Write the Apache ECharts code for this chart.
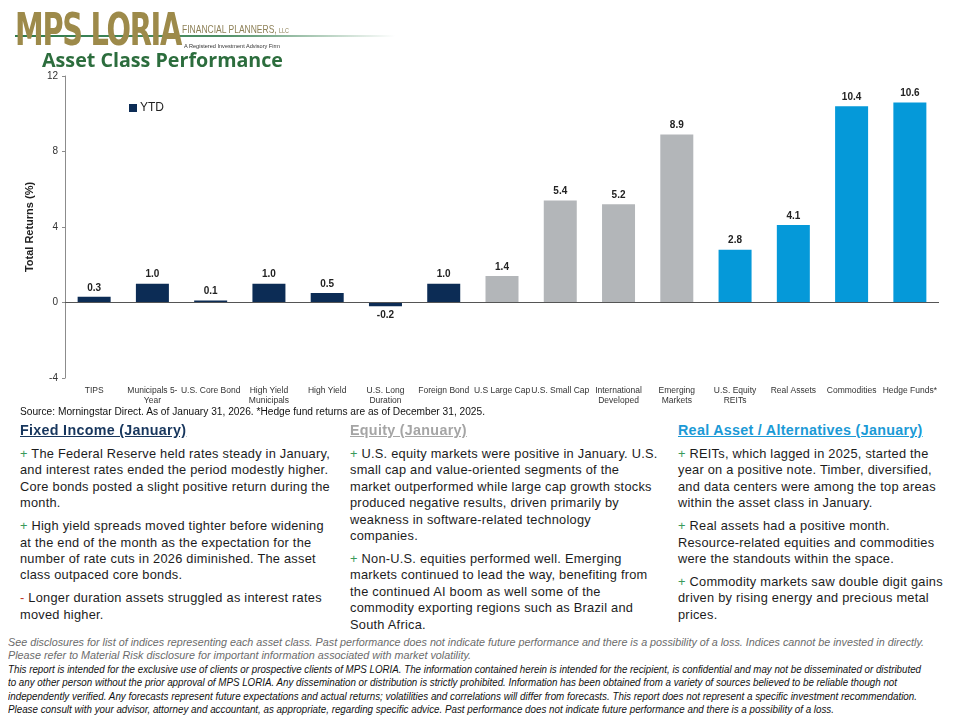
<!DOCTYPE html>
<html>
<head>
<meta charset="utf-8">
<script src="https://cdn.jsdelivr.net/npm/echarts@6/dist/echarts.min.js"></script>
<style>
  html,body{margin:0;padding:0;background:#fff;}
  #page{position:relative;width:960px;height:720px;overflow:hidden;background:#fff;font-family:"Liberation Sans",Arial,sans-serif;}
  #chart{position:absolute;left:0;top:0;width:960px;height:420px;}
  .abs{position:absolute;white-space:nowrap;}
  .fit{display:inline-block;transform-origin:0 50%;white-space:nowrap;}
  .head{font-weight:bold;font-size:14.3px;letter-spacing:0.3px;line-height:18px;text-decoration:underline;}
  .body{font-size:12.8px;letter-spacing:0.25px;line-height:16.4px;color:#1c1c1c;}
  .body p{margin:0 0 6.6px 0;}
  .plus{color:#3a9a5b;}
  .minus{color:#c0392b;}
</style>
</head>
<body>
<div id="page">
  <div id="chart"></div>

  <!-- logo -->
  <div class="abs" style="left:15px;top:35px;width:380px;height:2px;background:linear-gradient(to right,#2e7a4c 0%,#4f8f66 55%,rgba(255,255,255,0) 100%);"></div>
  <div class="abs" style="left:15px;top:10px;height:40px;line-height:40px;"><span class="fit" data-w="166" style="font-family:'DejaVu Sans','Liberation Sans';font-weight:bold;font-size:44px;color:#9d8a4a;letter-spacing:-2px;">MPS LORIA</span></div>
  <div class="abs" style="left:182px;top:21px;height:14px;line-height:14px;"><span class="fit" data-w="107" style="font-size:11px;color:#8e8158;">FINANCIAL PLANNERS, <span style="font-size:7px;">LLC</span></span></div>
  <div class="abs" style="left:184px;top:39px;height:8px;line-height:8px;"><span class="fit" data-w="96" style="font-size:6px;color:#333;">A Registered Investment Advisory Firm</span></div>

  <!-- title -->
  <div class="abs" style="left:42px;top:47px;height:26px;line-height:26px;"><span class="fit" data-w="241" style="font-family:'Open Sans','Liberation Sans';font-weight:bold;font-size:20px;color:#2c6d3d;">Asset Class Performance</span></div>

  <!-- source -->
  <div class="abs" style="left:20px;top:403px;height:13px;line-height:13px;"><span class="fit" data-w="465" style="font-size:10px;color:#111;">Source: Morningstar Direct. As of January 31, 2026. *Hedge fund returns are as of December 31, 2025.</span></div>

  <!-- columns -->
  <div class="abs head" style="left:20px;top:421px;color:#17365d;">Fixed Income (January)</div>
  <div class="abs body" style="left:20px;top:446px;">
    <p><span class="plus">+</span> The Federal Reserve held rates steady in January,<br>and interest rates ended the period modestly higher.<br>Core bonds posted a slight positive return during the<br>month.</p>
    <p><span class="plus">+</span> High yield spreads moved tighter before widening<br>at the end of the month as the expectation for the<br>number of rate cuts in 2026 diminished. The asset<br>class outpaced core bonds.</p>
    <p><span class="minus">-</span> Longer duration assets struggled as interest rates<br>moved higher.</p>
  </div>

  <div class="abs head" style="left:350px;top:421px;color:#a5a5a5;">Equity (January)</div>
  <div class="abs body" style="left:350px;top:446px;">
    <p><span class="plus">+</span> U.S. equity markets were positive in January. U.S.<br>small cap and value-oriented segments of the<br>market outperformed while large cap growth stocks<br>produced negative results, driven primarily by<br>weakness in software-related technology<br>companies.</p>
    <p><span class="plus">+</span> Non-U.S. equities performed well. Emerging<br>markets continued to lead the way, benefiting from<br>the continued AI boom as well some of the<br>commodity exporting regions such as Brazil and<br>South Africa.</p>
  </div>

  <div class="abs head" style="left:678px;top:421px;color:#1b9ad6;">Real Asset / Alternatives (January)</div>
  <div class="abs body" style="left:678px;top:446px;">
    <p><span class="plus">+</span> REITs, which lagged in 2025, started the<br>year on a positive note. Timber, diversified,<br>and data centers were among the top areas<br>within the asset class in January.</p>
    <p><span class="plus">+</span> Real assets had a positive month.<br>Resource-related equities and commodities<br>were the standouts within the space.</p>
    <p><span class="plus">+</span> Commodity markets saw double digit gains<br>driven by rising energy and precious metal<br>prices.</p>
  </div>

  <!-- footers -->
  <div class="abs" style="left:8px;top:634px;height:13px;line-height:13px;"><span class="fit" data-w="916" style="font-size:10px;font-style:italic;color:#6b6b6b;">See disclosures for list of indices representing each asset class. Past performance does not indicate future performance and there is a possibility of a loss. Indices cannot be invested in directly.</span></div>
  <div class="abs" style="left:8px;top:647px;height:13px;line-height:13px;"><span class="fit" data-w="463" style="font-size:10px;font-style:italic;color:#6b6b6b;">Please refer to Material Risk disclosure for important information associated with market volatility.</span></div>

  <div class="abs" style="left:8px;top:661px;height:13px;line-height:13px;"><span class="fit" data-w="913" style="font-family:'Liberation Sans Narrow','Liberation Sans';font-size:10px;font-style:italic;color:#111;">This report is intended for the exclusive use of clients or prospective clients of MPS LORIA. The information contained herein is intended for the recipient, is confidential and may not be disseminated or distributed</span></div>
  <div class="abs" style="left:8px;top:674px;height:13px;line-height:13px;"><span class="fit" data-w="889" style="font-family:'Liberation Sans Narrow','Liberation Sans';font-size:10px;font-style:italic;color:#111;">to any other person without the prior approval of MPS LORIA. Any dissemination or distribution is strictly prohibited. Information has been obtained from a variety of sources believed to be reliable though not</span></div>
  <div class="abs" style="left:8px;top:688px;height:13px;line-height:13px;"><span class="fit" data-w="909" style="font-family:'Liberation Sans Narrow','Liberation Sans';font-size:10px;font-style:italic;color:#111;">independently verified. Any forecasts represent future expectations and actual returns; volatilities and correlations will differ from forecasts. This report does not represent a specific investment recommendation.</span></div>
  <div class="abs" style="left:8px;top:701px;height:13px;line-height:13px;"><span class="fit" data-w="826" style="font-family:'Liberation Sans Narrow','Liberation Sans';font-size:10px;font-style:italic;color:#111;">Please consult with your advisor, attorney and accountant, as appropriate, regarding specific advice. Past performance does not indicate future performance and there is a possibility of a loss.</span></div>
</div>

<script>
// ---- data ----
var categories = ["TIPS", "Municipals 5-\nYear", "U.S. Core Bond", "High Yield\nMunicipals", "High Yield",
  "U.S. Long\nDuration", "Foreign Bond", "U.S Large Cap", "U.S. Small Cap", "International\nDeveloped",
  "Emerging\nMarkets", "U.S. Equity\nREITs", "Real Assets", "Commodities", "Hedge Funds*"];
var ytdValues = [0.3, 1.0, 0.1, 1.0, 0.5, -0.2, 1.0, 1.4, 5.4, 5.2, 8.9, 2.8, 4.1, 10.4, 10.6];
var groups = ["fixed", "fixed", "fixed", "fixed", "fixed", "fixed", "fixed",
  "equity", "equity", "equity", "equity", "real", "real", "real", "real"];
var yTicks = { min: -4, max: 12, interval: 4 };
var seriesName = "YTD";

var groupColors = { fixed: "#0c2c55", equity: "#b3b6b9", real: "#0599d9" };

var barData = ytdValues.map(function (v, i) {
  return {
    value: v,
    itemStyle: { color: groupColors[groups[i]] },
    label: { position: v < 0 ? "bottom" : "top" }
  };
});

var chart = echarts.init(document.getElementById("chart"), null, { renderer: "canvas" });
chart.setOption({
  animation: false,
  backgroundColor: "transparent",
  textStyle: { fontFamily: "Liberation Sans, Arial, sans-serif" },
  grid: { left: 65, right: 21, top: 76, bottom: 42, containLabel: false },
  legend: {
    data: [seriesName],
    left: 124, top: 97,
    icon: "rect", itemWidth: 8, itemHeight: 8, itemGap: 4,
    textStyle: { fontSize: 12, color: "#222", padding: [0, 0, 0, -2] }
  },
  xAxis: {
    type: "category",
    data: categories,
    axisLine: { show: false, onZero: false },
    axisTick: { show: false },
    axisLabel: { interval: 0, fontSize: 8.5, color: "#333", lineHeight: 10, margin: 8 }
  },
  yAxis: {
    type: "value",
    min: yTicks.min, max: yTicks.max, interval: yTicks.interval,
    name: "Total Returns (%)",
    nameLocation: "middle", nameRotate: 90, nameGap: 30,
    nameTextStyle: { fontSize: 11, fontWeight: "bold", color: "#222" },
    axisLine: { show: true, lineStyle: { color: "#8c8c8c", width: 1 } },
    axisTick: { show: true, length: 3, lineStyle: { color: "#8c8c8c" } },
    axisLabel: { fontSize: 10, color: "#333", margin: 7 },
    splitLine: { show: false }
  },
  series: [{
    name: seriesName,
    type: "bar",
    data: barData,
    barWidth: 33,
    itemStyle: { color: groupColors.fixed },
    label: { show: true, fontSize: 10, fontWeight: "bold", color: "#222", distance: 4,
      formatter: function (p) { return p.value.toFixed(1); } },
    markLine: {
      silent: true, symbol: "none", label: { show: false },
      lineStyle: { color: "#555", width: 1, type: "solid" },
      data: [{ yAxis: 0 }]
    }
  }]
});

// fit text lines to the reference widths
document.querySelectorAll(".fit").forEach(function (el) {
  var w = parseFloat(el.getAttribute("data-w"));
  var cur = el.getBoundingClientRect().width;
  if (cur > 0) el.style.transform = "scaleX(" + (w / cur) + ")";
});
</script>
</body>
</html>
